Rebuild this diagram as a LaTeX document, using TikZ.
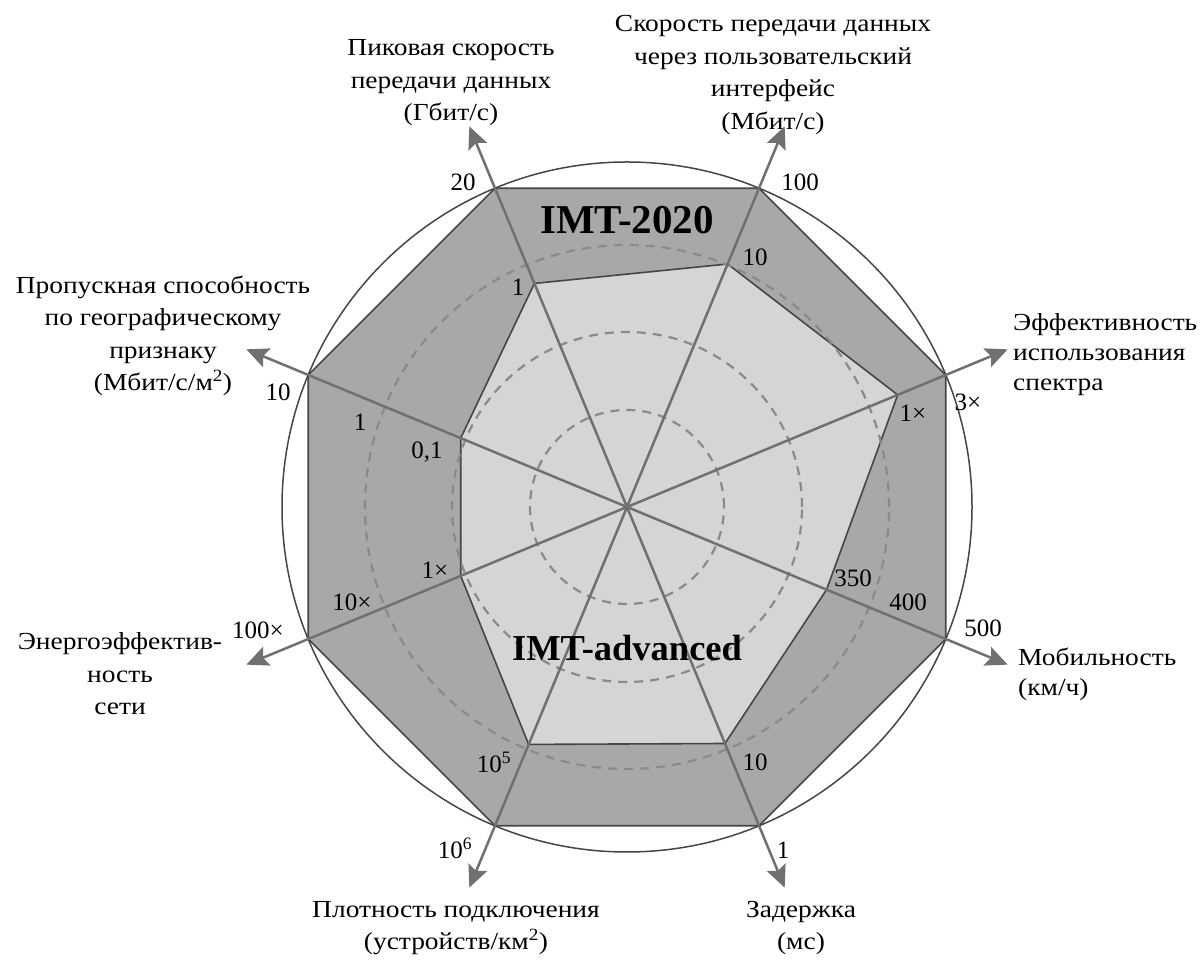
\documentclass[tikz,border=0pt]{standalone}
\usepackage{fontspec}
\setmainfont{Liberation Serif}
\newfontfamily\lblfont[FakeStretch=1.12]{Liberation Serif}
\usetikzlibrary{arrows.meta}
\definecolor{bandcol}{RGB}{168,168,168}
\definecolor{innercol}{RGB}{213,213,213}
\definecolor{axiscol}{RGB}{112,112,112}
\definecolor{edgecol}{RGB}{70,70,70}
\definecolor{dashcol}{RGB}{138,138,138}
\begin{document}
\begin{tikzpicture}[x=1pt,y=1pt,
  lbl/.style={font=\lblfont\fontsize{24.5}{32.5}\selectfont, align=center, inner sep=0pt},
  lbll/.style={font=\lblfont\fontsize{24.5}{30}\selectfont, align=left, inner sep=0pt, anchor=west},
  tick/.style={font=\fontsize{25}{28}\selectfont, inner sep=0pt},
  axisline/.style={draw=axiscol, line width=2.5pt, -{Stealth[length=22pt,width=20pt,inset=4pt]}},
  ringline/.style={draw=edgecol, line width=1.5pt},
  bandpoly/.style={fill=bandcol, draw=edgecol, line width=1.6pt, line join=round},
  innerpoly/.style={fill=innercol, draw=edgecol, line width=1.6pt, line join=round},
  dashring/.style={draw=dashcol, line width=2.2pt, dash pattern=on 9pt off 7pt},
  titlebig/.style={font=\fontsize{41}{46}\selectfont\bfseries, inner sep=0pt},
  titlesmall/.style={font=\fontsize{36.5}{40}\selectfont\bfseries, inner sep=0pt}]
\useasboundingbox (0,0) rectangle (1204,960);
\fill[white] (0,0) rectangle (1204,960);
\coordinate (O) at (627,453);
\begin{scope}[shift={(O)}]
  \draw[ringline] (0,0) circle (345);
  \filldraw[bandpoly] (22.5:345) -- (67.5:345) -- (112.5:345) -- (157.5:345) -- (202.5:345) -- (247.5:345) -- (292.5:345) -- (337.5:345) -- cycle;
  \filldraw[innerpoly] (112.5:242) -- (67.5:263) -- (22.5:293) -- (-22.5:216) -- (-67.5:256) -- (-112.5:257) -- (-157.5:180) -- (157.5:180) -- cycle;
  \draw[dashring] (0,0) circle (97);
  \draw[dashring] (0,0) circle (175);
  \draw[dashring] (0,0) circle (262);
  \coordinate (tPeak) at (112.5:412);
  \coordinate (tUser) at (67.5:412);
  \coordinate (tSpec) at (22.5:412);
  \coordinate (tMob) at (-22.5:412);
  \coordinate (tLat) at (-67.5:412);
  \coordinate (tDen) at (-112.5:412);
  \coordinate (tEne) at (-157.5:412);
  \coordinate (tArea) at (157.5:412);
\end{scope}
\draw[axisline] (O) -- (tPeak);
\draw[axisline] (O) -- (tUser);
\draw[axisline] (O) -- (tSpec);
\draw[axisline] (O) -- (tMob);
\draw[axisline] (O) -- (tLat);
\draw[axisline] (O) -- (tDen);
\draw[axisline] (O) -- (tEne);
\draw[axisline] (O) -- (tArea);

\node[titlebig] (imt2020) at (627,740) {IMT-2020};
\node[titlesmall] (imtadv) at (627,312) {IMT-advanced};

\node[lbl] (lPeak) at (451,877) {Пиковая скорость\\передачи данных\\(Гбит/с)};
\node[lbl] (lUser) at (773,885) {Скорость передачи данных\\через пользовательский\\интерфейс\\(Мбит/с)};
\node[lbl] (lArea) at (163,624) {Пропускная способность\\по географическому\\признаку\\(Мбит/с/м\textsuperscript{2})};
\node[lbll] (lSpec) at (1013,605) {Эффективность\\использования\\спектра};
\node[lbll] (lMob) at (1018,286) {Мобильность\\(км/ч)};
\node[lbl] (lEne) at (120,286) {Энергоэффектив-\\ность\\сети};
\node[lbl] (lDen) at (456,32) {Плотность подключения\\(устройств/км\textsuperscript{2})};
\node[lbl] (lLat) at (801,32) {Задержка\\(мс)};

\node[tick] (k20) at (463,778) {20};
\node[tick] (k1p) at (518,673) {1};
\node[tick] (k100) at (800,778) {100};
\node[tick] (k10u) at (755,703) {10};
\node[tick] (k3x) at (968,558) {3×};
\node[tick] (k1xs) at (913,547) {1×};
\node[tick] (k500) at (983,332) {500};
\node[tick] (k400) at (908,358) {400};
\node[tick] (k350) at (853,382) {350};
\node[tick] (k10l) at (755,198) {10};
\node[tick] (k1l) at (783,110) {1};
\node[tick] (k105) at (494,198) {10\textsuperscript{5}};
\node[tick] (k106) at (455,112) {10\textsuperscript{6}};
\node[tick] (k10a) at (278,568) {10};
\node[tick] (k1a) at (360,538) {1};
\node[tick] (k01a) at (427,508) {0,1};
\node[tick] (k100x) at (258,330) {100×};
\node[tick] (k10x) at (352,358) {10×};
\node[tick] (k1x) at (435,390) {1×};
\end{tikzpicture}
\end{document}
